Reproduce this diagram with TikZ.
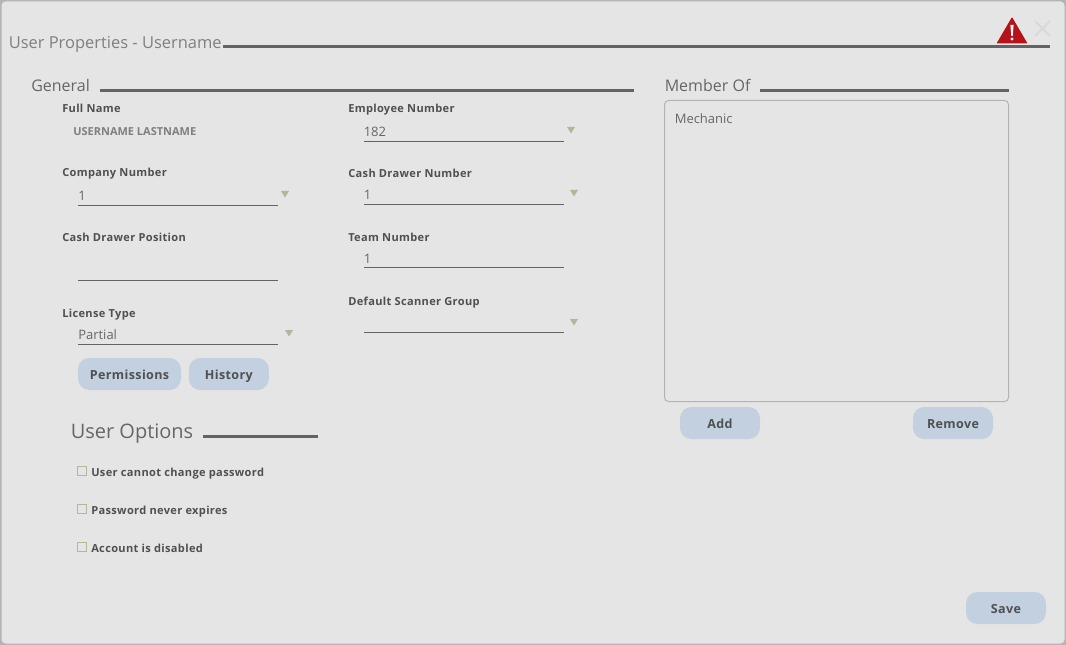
\documentclass[tikz,border=0pt]{standalone}
\usepackage{fontspec}
\setmainfont{Open Sans}
\newfontfamily\lblfont[LetterSpace=3]{Open Sans}
\usetikzlibrary{positioning}
\definecolor{panelbg}{HTML}{E5E5E5}
\definecolor{panelline}{HTML}{B4B4B4}
\definecolor{rulegray}{HTML}{636363}
\definecolor{headgray}{HTML}{666666}
\definecolor{titlegray}{HTML}{7F7F7F}
\definecolor{lblgray}{HTML}{505050}
\definecolor{btnblue}{HTML}{C3D0E0}
\definecolor{arrowgreen}{HTML}{B0B79A}
\definecolor{warnred}{HTML}{B5121B}
\tikzstyle{heading}=[anchor=base west,inner sep=0,text=headgray,font=\fontsize{12}{14}\selectfont]
\tikzstyle{lbl}=[anchor=base west,inner sep=0,text=lblgray,font=\lblfont\fontsize{8.3}{10}\selectfont\bfseries]
\tikzstyle{val}=[anchor=base west,inner sep=0,text=headgray,font=\fontsize{9.75}{12}\selectfont]
\tikzstyle{rulebar}=[draw=rulegray,line width=2.25pt]
\tikzstyle{fieldline}=[draw=rulegray,line width=0.75pt]
\tikzstyle{btn}=[rectangle,rounded corners=8.5pt,fill=btnblue,text=lblgray,inner sep=0,minimum height=24pt,text height=8.5pt,text depth=0pt,font=\lblfont\fontsize{9.4}{11}\selectfont\bfseries]
\tikzstyle{ddarrow}=[fill=arrowgreen,draw=none]
\tikzstyle{chk}=[rectangle,draw=arrowgreen,line width=0.75pt,fill=panelbg,inner sep=0,minimum size=7pt]
\begin{document}
\begin{tikzpicture}[x=0.75pt,y=-0.75pt]
	\useasboundingbox (0,0) rectangle (1066,645);
	\fill[panelline] (0,0) rectangle (1066,645);
	\draw[draw=panelline,fill=panelbg,line width=0.75pt,rounded corners=3pt] (1,1) rectangle (1065,644);

	% title and warning
	\node[heading,text=titlegray,font=\fontsize{12.35}{14}\selectfont] (title) at (8.5,48.7) {User Properties - Username};
	\draw[rulebar] (223,47) -- (1050,47);
	\fill[warnred,rounded corners=0.6pt] (1012,17) -- (1027.5,43.5) -- (996.5,43.5) -- cycle;
	\fill[white] (1010.4,25) -- (1013.6,25) -- (1012.7,36) -- (1011.3,36) -- cycle;
	\fill[white] (1012,39) circle (1.7);
	\draw[draw=black!15,line width=1.5pt] (1035,21) -- (1050,36) (1050,21) -- (1035,36);

	% general
	\node[heading] (general) at (31,91.5) {General};
	\draw[rulebar] (100,91) -- (634,91);
	\node[lbl] (fullname) at (62,113) {Full Name};
	\node[lbl,text=titlegray,font=\fontsize{8.25}{10}\selectfont\bfseries] (username) at (73,136) {USERNAME LASTNAME};
	\node[lbl] (company) at (62,177) {Company Number};
	\node[val] (companyval) at (78,201) {1};
	\draw[fieldline] (78,205.5) -- (278,205.5);
	\fill[ddarrow] (281,191) -- (289,191) -- (285,197.5) -- cycle;
	\node[lbl] (position) at (62,242) {Cash Drawer Position};
	\draw[fieldline] (78,280.5) -- (278,280.5);
	\node[lbl] (license) at (62,317) {License Type};
	\node[val] (licenseval) at (78,339) {Partial};
	\draw[fieldline] (78,344.5) -- (278,344.5);
	\fill[ddarrow] (285,330) -- (293,330) -- (289,336.5) -- cycle;
	\node[btn,minimum width=77.25pt] (permissions) at (129.5,374) {Permissions};
	\node[btn,minimum width=60pt] (history) [right=5.5pt of permissions] {History};

	\node[lbl] (employee) at (348,113) {Employee Number};
	\node[val] (employeeval) at (363.5,137) {182};
	\draw[fieldline] (364,141.5) -- (564,141.5);
	\fill[ddarrow] (567,127) -- (575,127) -- (571,133.5) -- cycle;
	\node[lbl] (drawer) at (348,178) {Cash Drawer Number};
	\node[val] (drawerval) at (363.5,200) {1};
	\draw[fieldline] (364,204.5) -- (564,204.5);
	\fill[ddarrow] (570,190) -- (578,190) -- (574,196.5) -- cycle;
	\node[lbl] (team) at (348,242) {Team Number};
	\node[val] (teamval) at (363.5,263.5) {1};
	\draw[fieldline] (364,267.5) -- (564,267.5);
	\node[lbl] (scanner) at (348,305) {Default Scanner Group};
	\draw[fieldline] (364,332.5) -- (564,332.5);
	\fill[ddarrow] (570,319) -- (578,319) -- (574,325.5) -- cycle;

	% user options
	\node[heading,font=\fontsize{15}{18}\selectfont] (options) at (70.5,438) {User Options};
	\draw[rulebar] (203,436) -- (318,436);
	\node[chk] (chkpass) at (82,471) {};
	\node[lbl] (lblpass) at (91,476) {User cannot change password};
	\node[chk] (chkexp) at (82,509) {};
	\node[lbl] (lblexp) at (91,514) {Password never expires};
	\node[chk] (chkdis) at (82,547) {};
	\node[lbl] (lbldis) at (91,552) {Account is disabled};

	% member of
	\node[heading] (member) at (664.5,91.5) {Member Of};
	\draw[rulebar] (760,91) -- (1009,91);
	\draw[draw=panelline,line width=0.75pt,rounded corners=3pt] (664.5,100.5) rectangle (1008.5,401.5);
	\node[val] (mechanic) at (674.5,124) {Mechanic};
	\node[btn,minimum width=60pt] (add) at (720,423) {Add};
	\node[btn,minimum width=60pt] (remove) at (953,423) {Remove};
	\node[btn,minimum width=60pt] (save) at (1006,608) {Save};
\end{tikzpicture}
\end{document}
